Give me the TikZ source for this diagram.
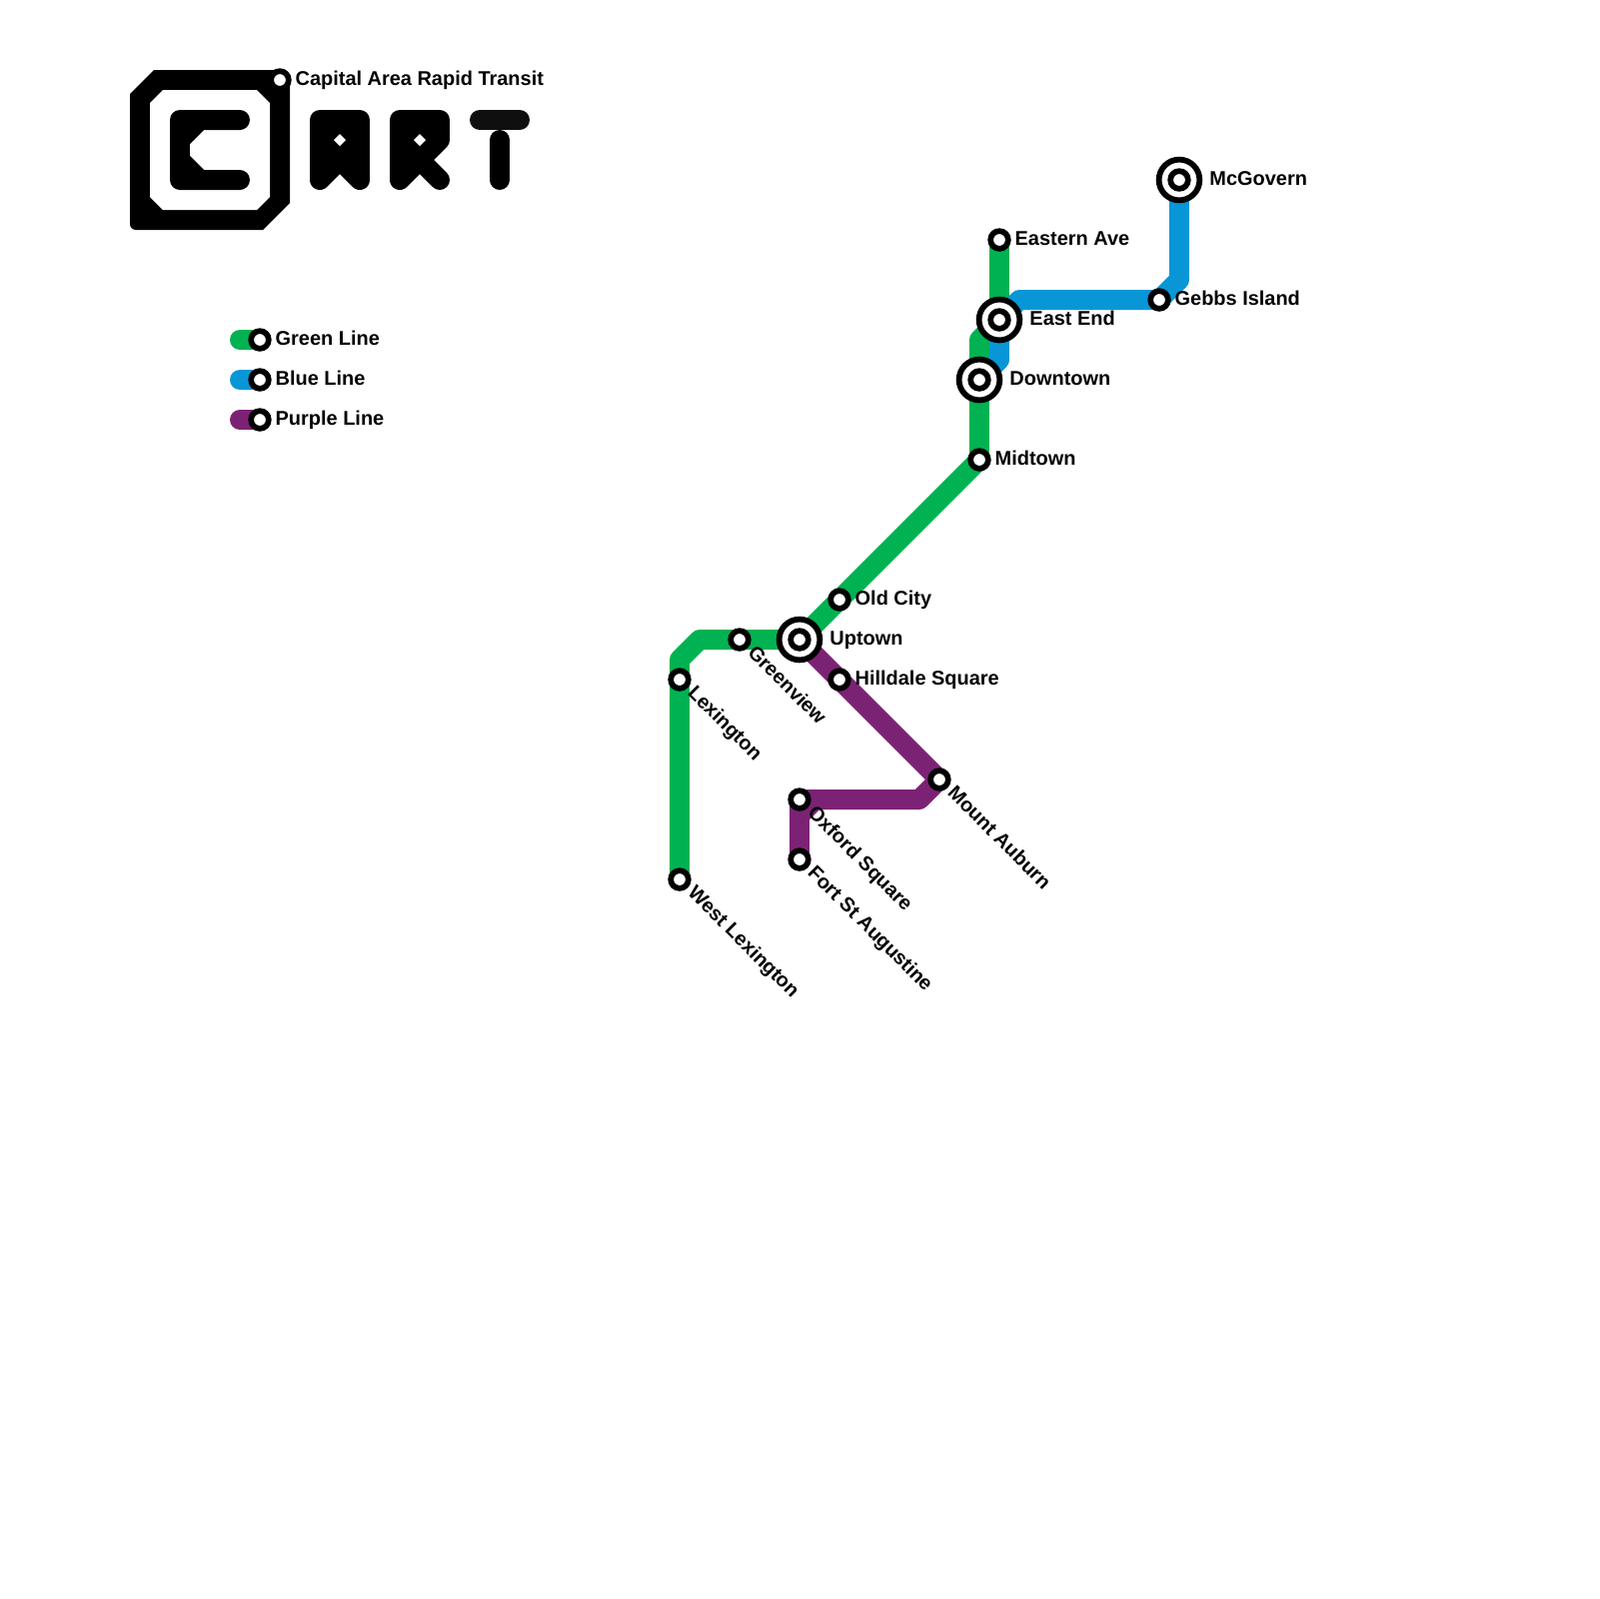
\documentclass[tikz,border=0pt]{standalone}
\usepackage{xcolor}
\usepackage{fontspec}
\setmainfont{Liberation Sans}
\usetikzlibrary{positioning, backgrounds}

\definecolor{greenln}{HTML}{00B251}
\definecolor{blueln}{HTML}{0896D7}
\definecolor{purpleln}{HTML}{7C2275}

\begin{document}
\begin{tikzpicture}[
    x=0.1001mm, y=-0.1001mm,
    every node/.style={font=\bfseries\fontsize{5.68}{7}\selectfont},
    station/.style={circle, draw=black, fill=white, line width=0.57mm, minimum size=1.77mm, inner sep=0pt},
    hub/.style={circle, draw=black, fill=white, line width=0.58mm, minimum size=4.08mm, inner sep=0pt},
    lbl/.style={inner sep=0pt, text height=1.45mm, text depth=0.4mm},
    side/.style={lbl, right=0.33mm of #1},
    far/.style={lbl, right=0.65mm of #1},
    slant/.style={lbl, xshift=0.22mm, yshift=-0.2mm, rotate=-45, anchor=west},
    metro/.style={line width=2mm, line cap=round, line join=round},
    logo/.style={line width=2mm, line cap=round, line join=round, fill=black, draw=black},
]

% stations
\node[hub] (mcgovern) at (1180,180) {};
\node[station] (mcgovernin) at (mcgovern) {};
\node[station] (eastern) at (1000,240) {};
\node[station] (gebbs) at (1160,300) {};
\node[hub] (eastend) at (1000,320) {};
\node[station] (eastendin) at (eastend) {};
\node[hub] (downtown) at (980,380) {};
\node[station] (downtownin) at (downtown) {};
\node[station] (midtown) at (980,460) {};
\node[station] (oldcity) at (840,600) {};
\node[hub] (uptown) at (800,640) {};
\node[station] (uptownin) at (uptown) {};
\node[station] (greenview) at (740,640) {};
\node[station] (lexington) at (680,680) {};
\node[station] (westlex) at (680,880) {};
\node[station] (hilldale) at (840,680) {};
\node[station] (auburn) at (940,780) {};
\node[station] (oxford) at (800,800) {};
\node[station] (fortst) at (800,860) {};

% labels
\node[far=mcgovern] (mcgovernlbl) {McGovern};
\node[side=eastern] (easternlbl) {Eastern Ave};
\node[side=gebbs] (gebbslbl) {Gebbs Island};
\node[far=eastend] (eastendlbl) {East End};
\node[far=downtown] (downtownlbl) {Downtown};
\node[side=midtown] (midtownlbl) {Midtown};
\node[side=oldcity] (oldcitylbl) {Old City};
\node[far=uptown] (uptownlbl) {Uptown};
\node[side=hilldale] (hilldalelbl) {Hilldale Square};
\node[slant] (greenviewlbl) at (greenview.south east) {Greenview};
\node[slant] (lexingtonlbl) at (lexington.south east) {Lexington};
\node[slant] (westlexlbl) at (westlex.south east) {West Lexington};
\node[slant] (auburnlbl) at (auburn.south east) {Mount Auburn};
\node[slant] (oxfordlbl) at (oxford.south east) {Oxford Square};
\node[slant] (fortstlbl) at (fortst.south east) {Fort St Augustine};

% legend
\node[station] (leggreen) at (260,340) {};
\node[station] (legblue) at (260,380) {};
\node[station] (legpurple) at (260,420) {};
\node[side=leggreen] (leggreenlbl) {Green Line};
\node[side=legblue] (legbluelbl) {Blue Line};
\node[side=legpurple] (legpurplelbl) {Purple Line};

% logo
\fill (130,94) -- (154,70) [rounded corners=1mm] -- (290,70) [sharp corners] -- (290,203) -- (263,230) [rounded corners=0.6mm] -- (130,230) [sharp corners] -- cycle;
\fill[white] (150,103) -- (163,90) -- (257,90) -- (270,103) -- (270,197) -- (257,210) -- (163,210) -- (150,197) -- cycle;
\draw[logo] (240,120) -- (180,120) -- (180,180) -- (240,180) -- (200,180) -- (180,160) -- (180,140) -- (200,120) -- cycle;
\draw[logo] (320,180) -- (320,120) -- (360,120) -- (360,180) -- (340,160) -- cycle;
\fill[white] (340,134) -- (346,140) -- (340,146) -- (334,140) -- cycle;
\draw[logo] (400,180) -- (400,120) -- (440,120) -- (440,140) -- (420,160) -- (440,180) -- (420,160) -- cycle;
\fill[white] (420,134) -- (426,140) -- (420,146) -- (414,140) -- cycle;
\draw[metro, black!94] (480,120) -- (520,120);
\draw[metro, black] (500,140) -- (500,180);
\node[station] (logodot) at (280,80) {};
\node[side=logodot] (logolbl) {Capital Area Rapid Transit};

\begin{scope}[on background layer]
\useasboundingbox[fill=white] (0,0) rectangle (1600,1600);
\draw[metro, greenln] (eastern.center) -- (eastend.center) -- ++(-20,20) -- (downtown.center) -- (midtown.center) -- (oldcity.center) -- (uptown.center) -- (greenview.center) -- ++(-40,0) -- ++(-20,20) -- (lexington.center) -- (westlex.center);
\draw[metro, blueln] (mcgovern.center) -- ++(0,100) -- (gebbs.center) -- ++(-140,0) -- (eastend.center) -- ++(0,40) -- (downtown.center);
\draw[metro, purpleln] (uptown.center) -- (hilldale.center) -- (auburn.center) -- ++(-20,20) -- (oxford.center) -- (fortst.center);
\fill[purpleln] (oxford.center) ++(20,10) -- ++(-10,10) -- ++(0,-10) -- cycle;
\draw[metro, greenln] (leggreen.center) -- ++(-20,0);
\draw[metro, blueln] (legblue.center) -- ++(-20,0);
\draw[metro, purpleln] (legpurple.center) -- ++(-20,0);
\end{scope}
\end{tikzpicture}
\end{document}
